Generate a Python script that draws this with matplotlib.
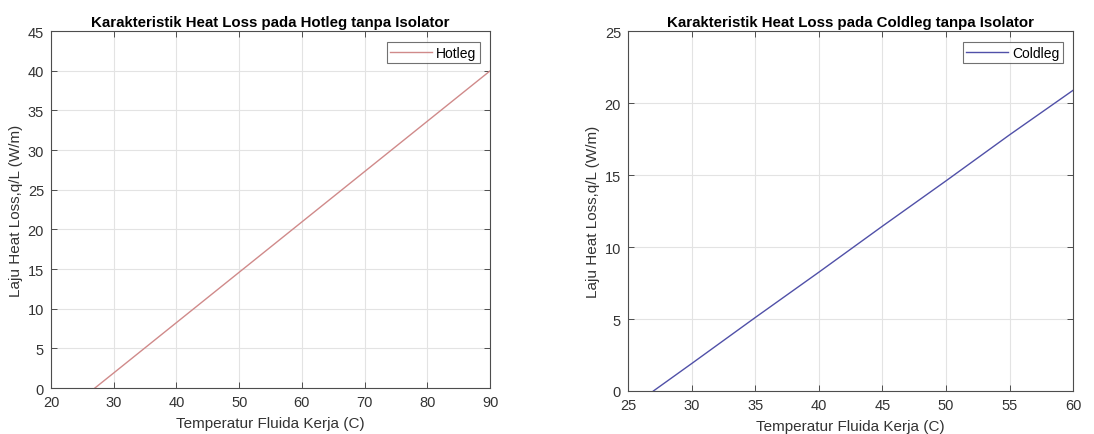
import matplotlib
matplotlib.use("Agg")
import matplotlib.pyplot as plt

plt.rcParams['font.family'] = ['Liberation Sans', 'DejaVu Sans']

# Hotleg data
hot_T = [27, 30, 40, 50, 60, 70, 80, 90]
hot_q = [0.0, 1.9, 8.25, 14.6, 20.95, 27.3, 33.65, 40.0]

# Coldleg data
cold_T = [27, 30, 35, 40, 45, 50, 55, 60]
cold_q = [0.0, 1.9, 5.1, 8.25, 11.45, 14.6, 17.8, 20.9]

hot_xticks = [20, 30, 40, 50, 60, 70, 80, 90]
hot_yticks = [0, 5, 10, 15, 20, 25, 30, 35, 40, 45]
cold_xticks = [25, 30, 35, 40, 45, 50, 55, 60]
cold_yticks = [0, 5, 10, 15, 20, 25]

fig = plt.figure(figsize=(10.94, 4.35), dpi=100)
ax1 = fig.add_axes([0.0466, 0.1057, 0.4014, 0.8203])
ax2 = fig.add_axes([0.574, 0.0989, 0.407, 0.8271])

axcol = '#4d4d4d'
txtcol = '#333333'

def style(ax, xt, yt, title):
    ax.set_xlim(xt[0], xt[-1])
    ax.set_ylim(yt[0], yt[-1])
    ax.set_xticks(xt)
    ax.set_yticks(yt)
    ax.grid(True, color='#e3e3e3', linewidth=0.8)
    ax.set_axisbelow(True)
    ax.tick_params(direction='in', top=True, right=True, length=4, width=0.7,
                   colors=axcol, labelsize=10.5, labelcolor=txtcol, pad=5)
    for s in ax.spines.values():
        s.set_color(axcol)
        s.set_linewidth(0.8)
    ax.set_title(title, fontsize=10.8, fontweight='bold', color='black', pad=4)
    ax.set_xlabel('Temperatur Fluida Kerja (C)', fontsize=11, color=txtcol, labelpad=5)
    ax.set_ylabel('Laju Heat Loss,q/L (W/m)', fontsize=11, color=txtcol, labelpad=3)

def add_legend(ax):
    leg = ax.legend(loc='upper right', fontsize=10, frameon=True, fancybox=False,
                    edgecolor=axcol, handlelength=3.0, handletextpad=0.3,
                    borderpad=0.25, borderaxespad=0,
                    bbox_to_anchor=(0.977, 0.969))
    leg.get_frame().set_linewidth(0.8)

ax1.plot(hot_T, hot_q, color='#d08a8a', linewidth=1.0, label='Hotleg')
style(ax1, hot_xticks, hot_yticks, 'Karakteristik Heat Loss pada Hotleg tanpa Isolator')
add_legend(ax1)

ax2.plot(cold_T, cold_q, color='#5050a8', linewidth=1.0, label='Coldleg')
style(ax2, cold_xticks, cold_yticks, 'Karakteristik Heat Loss pada Coldleg tanpa Isolator')
add_legend(ax2)

fig.savefig('out.png', dpi=100)
